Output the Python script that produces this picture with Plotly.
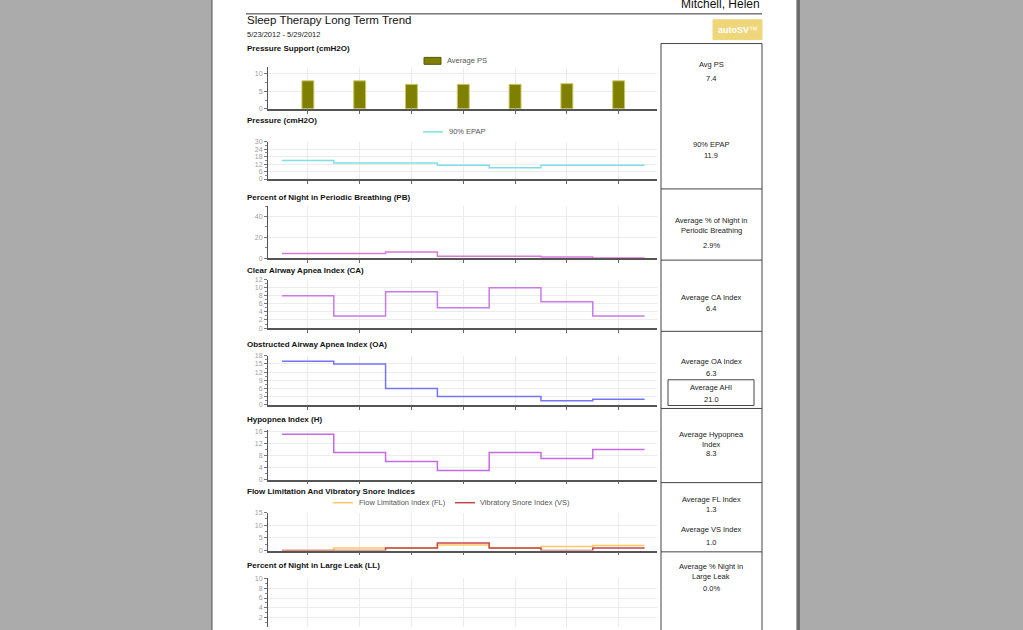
import plotly.graph_objects as go

W, H = 1023, 630

# ---------------- data ----------------
days = ["5/23/2012", "5/24/2012", "5/25/2012", "5/26/2012", "5/27/2012", "5/28/2012", "5/29/2012"]
avg_ps = [8, 8, 7, 7, 7, 7.2, 8]
epap_90 = [15, 13, 13, 11, 9, 11, 11]
pb_pct = [4.5, 4.5, 6, 1.8, 1.8, 1, 0.2]
ca_index = [8, 3, 9, 5, 10, 6.5, 3]
oa_index = [16, 15, 6, 3, 3, 1.5, 2]
h_index = [15, 9, 6, 3, 9, 7, 10]
fl_index = [0, 1, 1, 2.2, 1, 1.6, 2]
vs_index = [0, 0, 1, 3, 1, 0, 1]
ll_pct = [0, 0, 0, 0, 0, 0, 0]

patient = "Mitchell, Helen"
report_title = "Sleep Therapy Long Term Trend"
date_range = "5/23/2012 - 5/29/2012"
panel_titles = [
    "Pressure Support (cmH2O)",
    "Pressure (cmH2O)",
    "Percent of Night in Periodic Breathing (PB)",
    "Clear Airway Apnea Index (CA)",
    "Obstructed Airway Apnea Index (OA)",
    "Hypopnea Index (H)",
    "Flow Limitation And Vibratory Snore Indices",
    "Percent of Night in Large Leak (LL)",
]
summary_lines = [
    (["Avg PS"], 61), (["7.4"], 75),
    (["90% EPAP"], 142), (["11.9"], 153),
    (["Average % of Night in", "Periodic Breathing"], 219), (["2.9%"], 244),
    (["Average CA Index"], 297), (["6.4"], 308),
    (["Average OA Index"], 362), (["6.3"], 374),
    (["Average AHI"], 388), (["21.0"], 400),
    (["Average Hypopnea", "Index"], 435), (["8.3"], 455),
    (["Average FL Index"], 501), (["1.3"], 511),
    (["Average VS Index"], 531), (["1.0"], 545),
    (["Average % Night in", "Large Leak"], 569), (["0.0%"], 591),
]

FONT = "Liberation Sans, Arial, sans-serif"


def px(x):
    return x / W


def py(y):
    return 1 - y / H


fig = go.Figure()

# panels: (y range, dtick, top px, bottom px)
panels = [
    ([0, 12], 5, 63.6, 106),
    ([0, 30], 6, 139.3, 177),
    ([0, 50], 20, 204.5, 257),
    ([0, 12], 2, 278.7, 327.7),
    ([0, 18], 3, 355.7, 405.3),
    ([0, 16.5], 4, 430.5, 481),
    ([0, 15], 5, 514.3, 552.7),
    ([0.14, 10], 2, 580.7, 630),
]

x_left, x_right = 268, 657
xr = [-0.77, 6.74]

layout_axes = {}
for i, (yr, dt, top, bot) in enumerate(panels):
    n = "" if i == 0 else str(i + 1)
    last = i == len(panels) - 1
    layout_axes["xaxis" + n] = dict(
        domain=[px(x_left), px(x_right)], range=xr, anchor="y" + n,
        tickvals=list(range(len(days))), showticklabels=False,
        ticks="" if last else "outside", ticklen=3, tickcolor="#666",
        showgrid=True, gridcolor="#ececec", gridwidth=1,
        showline=not last, linecolor="#555", linewidth=1.5,
        zeroline=False, fixedrange=True,
    )
    layout_axes["yaxis" + n] = dict(
        domain=[max(0, py(bot)), py(top)], range=yr, anchor="x" + n,
        dtick=dt, tick0=0, ticks="outside", ticklen=3, tickcolor="#777",
        tickfont=dict(size=7, color="#a0a0a0", family=FONT),
        showgrid=True, gridcolor="#ececec", gridwidth=1,
        showline=True, linecolor="#555", linewidth=1,
        zeroline=False, fixedrange=True,
        minor=dict(ticks="outside", ticklen=2, dtick=dt / 2, tickcolor="#888", showgrid=False),
    )

xs = list(range(len(days)))
edges = [i - 0.5 for i in range(len(days) + 1)]


def step(vals, color, ax, name):
    n = "" if ax == 1 else str(ax)
    fig.add_trace(go.Scatter(
        x=edges, y=vals + [vals[-1]], mode="lines", line_shape="hv",
        line=dict(color=color, width=1.5), name=name,
        xaxis="x" + n, yaxis="y" + n, showlegend=False, hoverinfo="skip",
    ))


fig.add_trace(go.Bar(
    x=xs, y=avg_ps, width=0.23, marker=dict(color="#808000", line=dict(color="#c8c866", width=1)),
    name="Average PS", xaxis="x", yaxis="y", showlegend=False,
))
step(epap_90, "#7fdfe6", 2, "90% EPAP")
step(pb_pct, "#d779d7", 3, "PB")
step(ca_index, "#c97ae8", 4, "CA")
step(oa_index, "#7474f6", 5, "OA")
step(h_index, "#c76ae8", 6, "H")
step(fl_index, "#ffc864", 7, "Flow Limitation Index (FL)")
step(vs_index, "#c8464a", 7, "Vibratory Snore Index (VS)")
step(ll_pct, "#d779d7", 8, "LL")

shapes = []
ann = []

# page
shapes.append(dict(type="rect", xref="paper", yref="paper", x0=px(212), x1=px(797), y0=-0.05, y1=1.05,
                   fillcolor="white", line=dict(color="#555", width=1), layer="below"))
shapes.append(dict(type="rect", xref="paper", yref="paper", x0=px(797), x1=px(800), y0=-0.05, y1=1.05,
                   fillcolor="#6e6e6e", line=dict(width=0), layer="below"))
# header rule
shapes.append(dict(type="line", xref="paper", yref="paper", x0=px(246), x1=px(762), y0=py(10), y1=py(10),
                   line=dict(color="#333", width=1)))
# badge
shapes.append(dict(type="rect", xref="paper", yref="paper", x0=px(713), x1=px(762), y0=py(36), y1=py(16),
                   fillcolor="#efd67a", line=dict(color="#efd67a", width=1)))
ann.append(dict(x=px(737.5), y=py(26), xref="paper", yref="paper", text="<b>autoSV</b>™",
                showarrow=False, font=dict(size=9, color="white", family=FONT),
                xanchor="center", yanchor="middle"))

# right summary column
shapes.append(dict(type="rect", xref="paper", yref="paper", x0=px(661), x1=px(762), y0=py(640), y1=py(40),
                   line=dict(color="#444", width=1)))
for yl in [187, 259, 331, 409, 484, 554]:
    shapes.append(dict(type="line", xref="paper", yref="paper", x0=px(661), x1=px(762), y0=py(yl), y1=py(yl),
                       line=dict(color="#444", width=1)))
shapes.append(dict(type="rect", xref="paper", yref="paper", x0=px(668), x1=px(754), y0=py(406), y1=py(380),
                   line=dict(color="#444", width=1)))

for lines, ytop in summary_lines:
    for k, t in enumerate(lines):
        ann.append(dict(x=px(711), y=py(ytop + k * 10), xref="paper", yref="paper", text=t, showarrow=False,
                        font=dict(size=7.5, color="#222", family=FONT), xanchor="center", yanchor="middle"))

# header text
ann.append(dict(x=px(762), y=py(0), xref="paper", yref="paper", text=patient, showarrow=False,
                font=dict(size=12, color="#111", family=FONT), xanchor="right", yanchor="middle"))
ann.append(dict(x=px(245), y=py(16), xref="paper", yref="paper", text=report_title, showarrow=False,
                font=dict(size=11.5, color="#111", family=FONT), xanchor="left", yanchor="middle"))
ann.append(dict(x=px(245), y=py(31), xref="paper", yref="paper", text=date_range, showarrow=False,
                font=dict(size=7.5, color="#222", family=FONT), xanchor="left", yanchor="middle"))

title_y = [45, 118, 196, 269, 344, 420, 493, 568]
for t, yy in zip(panel_titles, title_y):
    ann.append(dict(x=px(245), y=py(yy), xref="paper", yref="paper", text="<b>" + t + "</b>", showarrow=False,
                    font=dict(size=8, color="#111", family=FONT), xanchor="left", yanchor="middle"))

# legends
shapes.append(dict(type="rect", xref="paper", yref="paper", x0=px(424), x1=px(441), y0=py(61), y1=py(54),
                   fillcolor="#808000", line=dict(color="#5a5a00", width=1)))
ann.append(dict(x=px(445), y=py(57.5), xref="paper", yref="paper", text="Average PS", showarrow=False,
                font=dict(size=7.5, color="#555", family=FONT), xanchor="left", yanchor="middle"))
legend_lines = [
    (423, 443, 129.3, "#7fdfe6", "90% EPAP", 447),
    (333, 353, 504.3, "#ffc864", "Flow Limitation Index (FL)", 357),
    (455, 475, 504.3, "#c8464a", "Vibratory Snore Index (VS)", 478),
]
for x0, x1, yy, c, t, tx in legend_lines:
    shapes.append(dict(type="line", xref="paper", yref="paper", x0=px(x0), x1=px(x1), y0=py(yy), y1=py(yy),
                       line=dict(color=c, width=1.5)))
    ann.append(dict(x=px(tx), y=py(yy), xref="paper", yref="paper", text=t, showarrow=False,
                    font=dict(size=7.5, color="#555", family=FONT), xanchor="left", yanchor="middle"))

fig.update_layout(
    width=W, height=H, margin=dict(l=0, r=0, t=0, b=0),
    paper_bgcolor="#ababab", plot_bgcolor="rgba(0,0,0,0)",
    showlegend=False, shapes=shapes, annotations=ann, font=dict(family=FONT),
    bargap=0.5,
    **layout_axes,
)

fig.write_html(
    "out.html",
    config={"displayModeBar": False},
    post_script="document.body.style.margin='0';document.body.style.background='#ababab';document.body.style.overflow='hidden';",
)
